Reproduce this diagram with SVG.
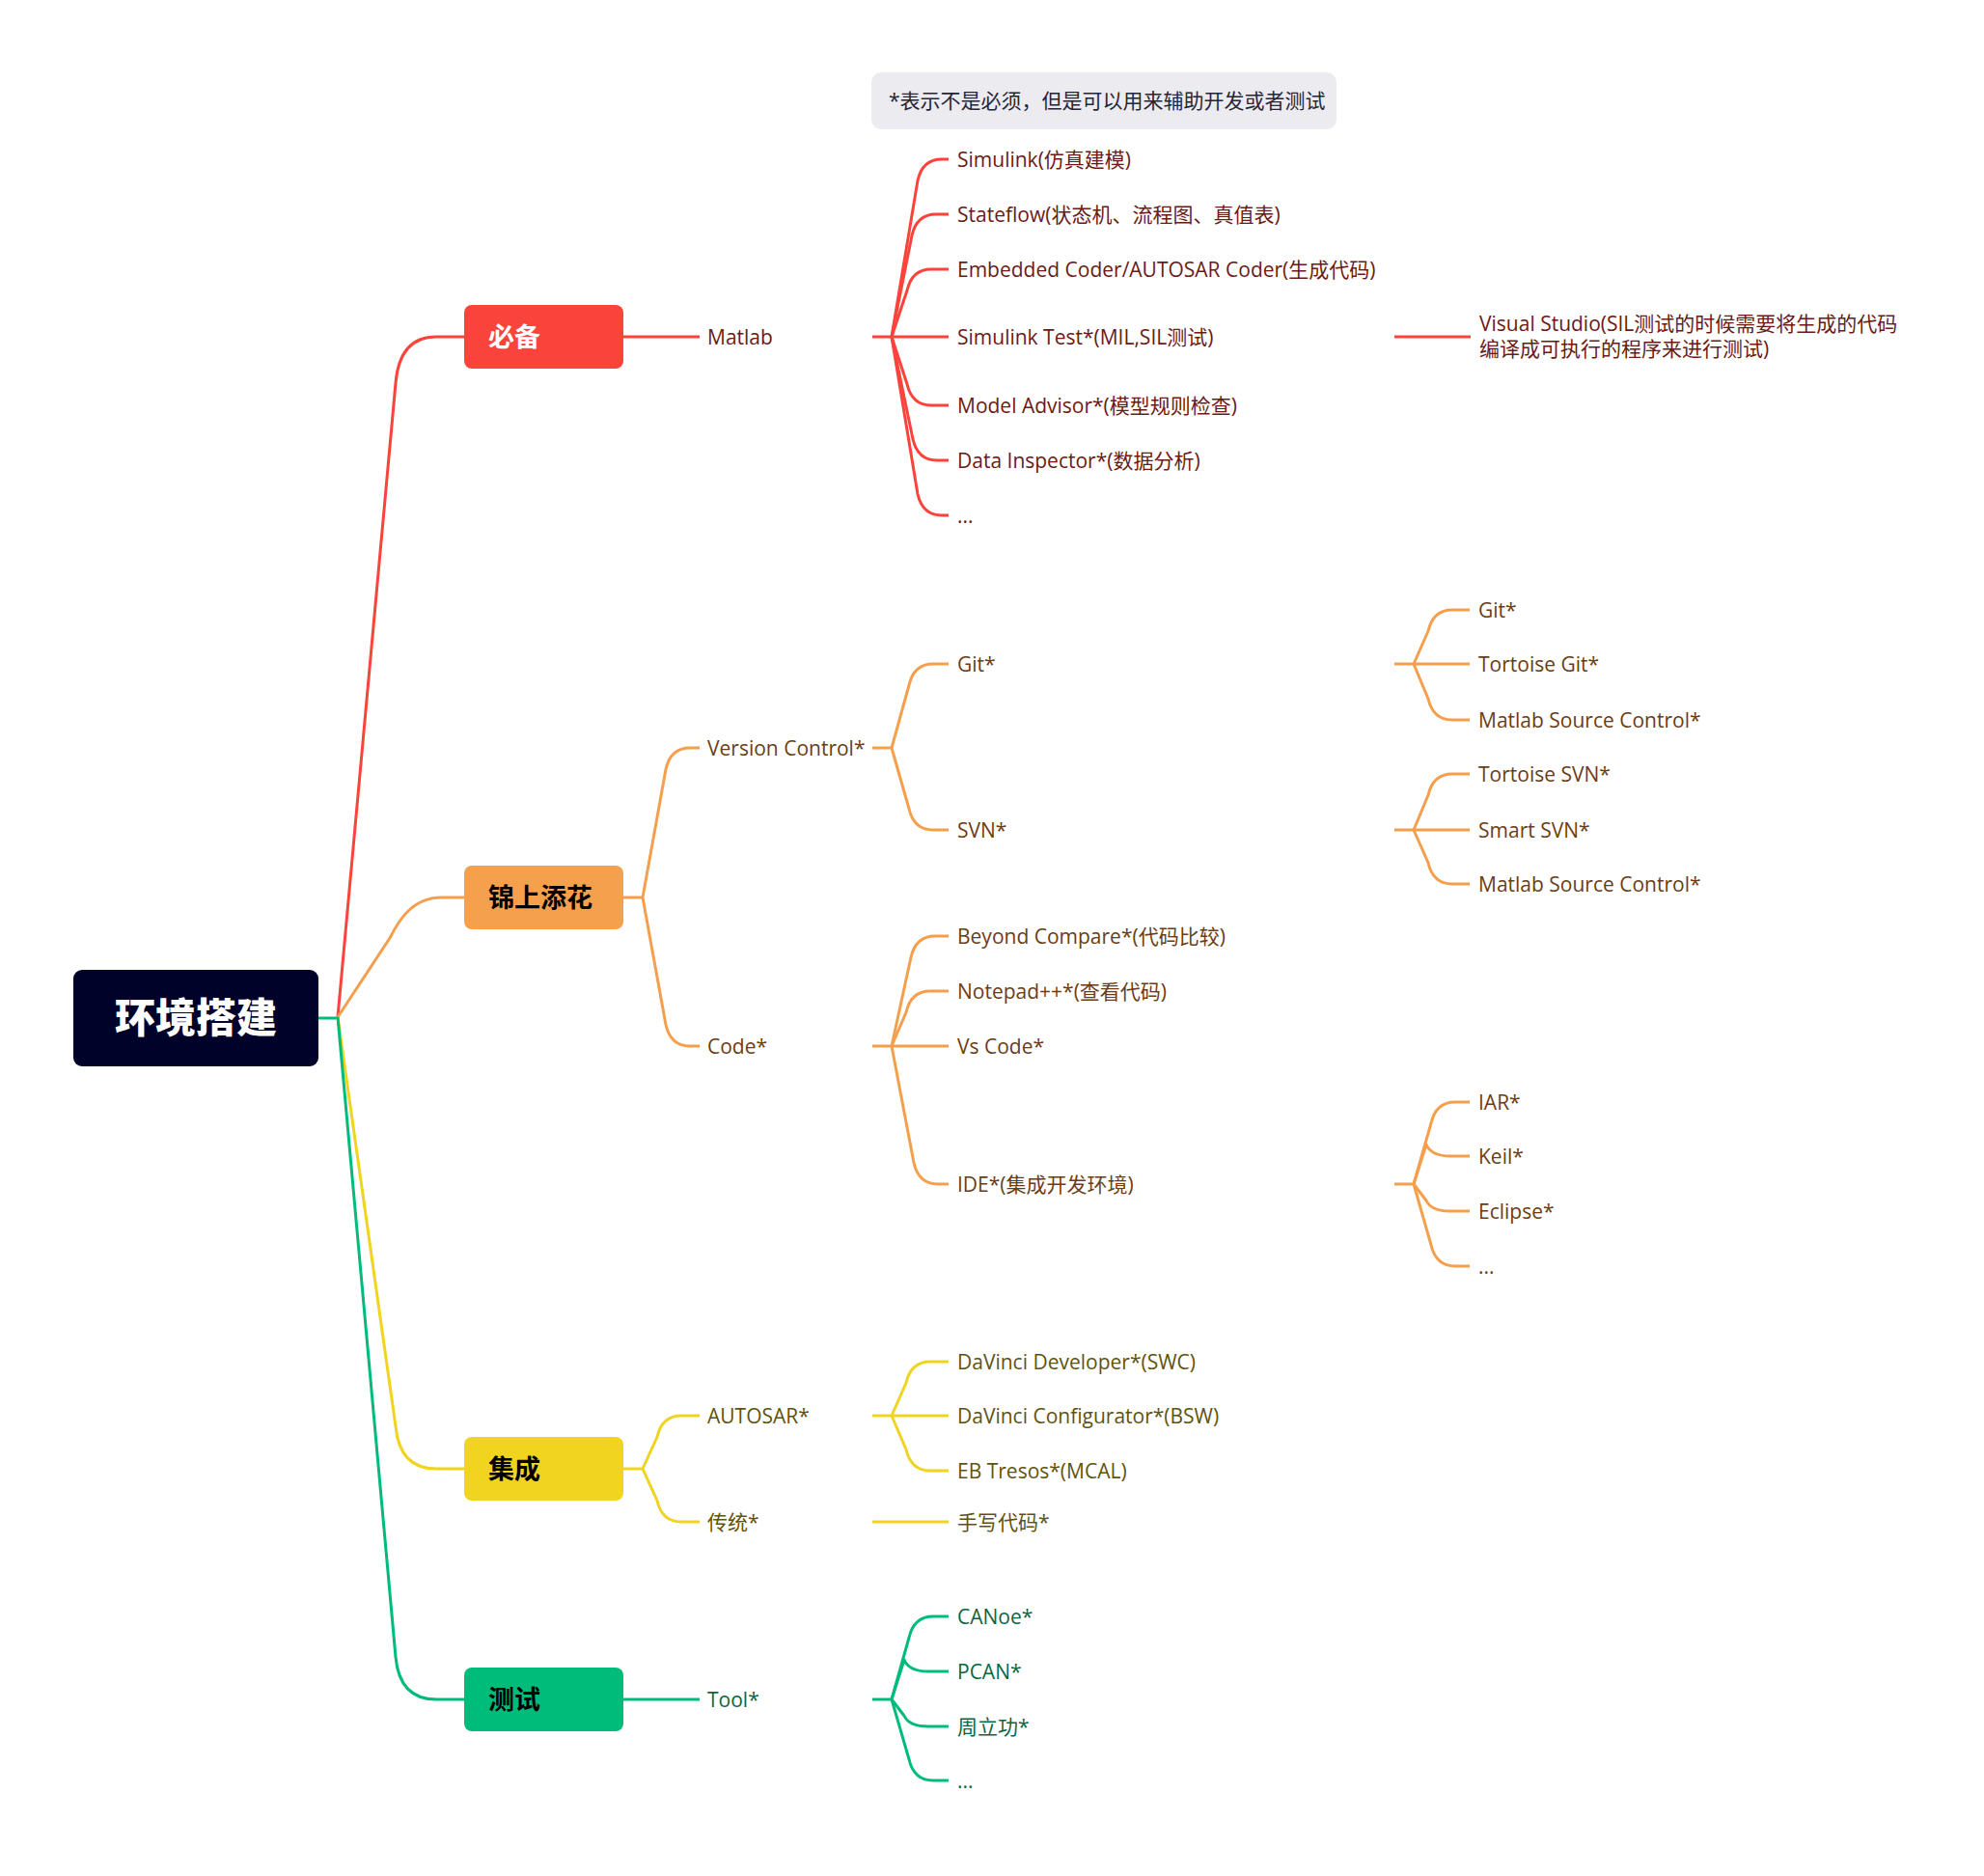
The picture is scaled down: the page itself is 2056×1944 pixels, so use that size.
<svg xmlns="http://www.w3.org/2000/svg" width="2056" height="1944" viewBox="0 0 2056 1944">
<style>
  .ln { fill: none; stroke-width: 3; stroke-linecap: butt; stroke-linejoin: round; }
  .red { stroke: #FA443B; }
  .org { stroke: #F59F4C; }
  .yel { stroke: #F0D420; }
  .grn { stroke: #00BC7B; }
  .t { font-family: "Open Sans", "Noto Sans CJK SC", sans-serif; font-size: 21px; }
  .tr { fill: #6B1A16; }
  .to { fill: #6B3D14; }
  .ty { fill: #5F5310; }
  .tg { fill: #0B6643; }
  .bx { font-family: "Noto Sans CJK SC", sans-serif; font-size: 27px; font-weight: 700; }
</style>
<rect width="2056" height="1944" fill="#ffffff"/>

<g id="connectors">
  <!-- root to main branches -->
  <path class="ln red" d="M350,1054 L410,397 Q414,349 452,349 L481,349"/>
  <path class="ln org" d="M350,1054 L404,972 C414,952 428,930 458,930 L481,930"/>
  <path class="ln yel" d="M350,1054 L410,1478 Q414,1522 452,1522 L481,1522"/>
  <path class="ln grn" d="M350,1054 L410,1717 Q414,1761 452,1761 L481,1761"/>
  <path class="ln grn" d="M330,1055 L350,1055"/>

  <!-- 必备 -->
  <path class="ln red" d="M646,349 L725,349"/>
  <path class="ln red" d="M904,349 L924,349"/>
  <path class="ln red" d="M924,349 L951,187 Q956,165 976,165 L983,165"/>
  <path class="ln red" d="M924,349 L945,244 Q950,222 970,222 L983,222"/>
  <path class="ln red" d="M924,349 L940,301 Q945,279 965,279 L983,279"/>
  <path class="ln red" d="M924,349 L983,349"/>
  <path class="ln red" d="M924,349 L940,398 Q945,420 965,420 L983,420"/>
  <path class="ln red" d="M924,349 L946,455 Q951,477 971,477 L983,477"/>
  <path class="ln red" d="M924,349 L951,512 Q956,534 976,534 L983,534"/>
  <path class="ln red" d="M1445,349 L1524,349"/>

  <!-- 锦上添花 -->
  <path class="ln org" d="M646,930 L666,930"/>
  <path class="ln org" d="M666,930 L690,797 Q695,775 715,775 L725,775"/>
  <path class="ln org" d="M666,930 L690,1062 Q695,1084 715,1084 L725,1084"/>
  <path class="ln org" d="M904,775 L924,775"/>
  <path class="ln org" d="M924,775 L942,710 Q947,688 967,688 L983,688"/>
  <path class="ln org" d="M924,775 L942,838 Q947,860 967,860 L983,860"/>
  <path class="ln org" d="M1445,688 L1465,688"/>
  <path class="ln org" d="M1465,688 L1480,654 Q1485,632 1505,632 L1523,632"/>
  <path class="ln org" d="M1465,688 L1523,688"/>
  <path class="ln org" d="M1465,688 L1480,724 Q1485,746 1505,746 L1523,746"/>
  <path class="ln org" d="M1445,860 L1465,860"/>
  <path class="ln org" d="M1465,860 L1480,824 Q1485,802 1505,802 L1523,802"/>
  <path class="ln org" d="M1465,860 L1523,860"/>
  <path class="ln org" d="M1465,860 L1480,894 Q1485,916 1505,916 L1523,916"/>
  <path class="ln org" d="M904,1084 L924,1084"/>
  <path class="ln org" d="M924,1084 L944,992 Q949,970 969,970 L983,970"/>
  <path class="ln org" d="M924,1084 L939,1049 Q944,1027 964,1027 L983,1027"/>
  <path class="ln org" d="M924,1084 L983,1084"/>
  <path class="ln org" d="M924,1084 L947,1205 Q952,1227 972,1227 L983,1227"/>
  <path class="ln org" d="M1445,1227 L1465,1227"/>
  <path class="ln org" d="M1465,1227 L1483,1164 Q1488,1142 1508,1142 L1523,1142"/>
  <path class="ln org" d="M1465,1227 L1478,1186 Q1483,1198 1503,1198 L1523,1198"/>
  <path class="ln org" d="M1465,1227 L1478,1244 Q1483,1255 1503,1255 L1523,1255"/>
  <path class="ln org" d="M1465,1227 L1483,1290 Q1488,1312 1508,1312 L1523,1312"/>

  <!-- 集成 -->
  <path class="ln yel" d="M646,1522 L666,1522"/>
  <path class="ln yel" d="M666,1522 L681,1489 Q686,1467 706,1467 L725,1467"/>
  <path class="ln yel" d="M666,1522 L681,1555 Q686,1577 706,1577 L725,1577"/>
  <path class="ln yel" d="M904,1467 L924,1467"/>
  <path class="ln yel" d="M924,1467 L939,1433 Q944,1411 964,1411 L983,1411"/>
  <path class="ln yel" d="M924,1467 L983,1467"/>
  <path class="ln yel" d="M924,1467 L939,1502 Q944,1524 964,1524 L983,1524"/>
  <path class="ln yel" d="M904,1577 L983,1577"/>

  <!-- 测试 -->
  <path class="ln grn" d="M646,1761 L725,1761"/>
  <path class="ln grn" d="M904,1761 L924,1761"/>
  <path class="ln grn" d="M924,1761 L942,1697 Q947,1675 967,1675 L983,1675"/>
  <path class="ln grn" d="M924,1761 L937,1720 Q942,1732 962,1732 L983,1732"/>
  <path class="ln grn" d="M924,1761 L937,1778 Q942,1789 962,1789 L983,1789"/>
  <path class="ln grn" d="M924,1761 L942,1823 Q947,1845 967,1845 L983,1845"/>
</g>

<g id="note">
  <rect x="903" y="75" width="482" height="59" rx="10" fill="#ECEBEF"/>
  <text class="t" x="921" y="112" fill="#262637">*表示不是必须，但是可以用来辅助开发或者测试</text>
</g>

<g id="root">
  <rect x="76" y="1005" width="254" height="100" rx="9" fill="#000229"/>
  <text x="203" y="1070" text-anchor="middle" font-family="Noto Sans CJK SC, sans-serif" font-size="42" font-weight="900" fill="#ffffff">环境搭建</text>
</g>

<g id="n-bibei">
  <rect x="481" y="316" width="165" height="66" rx="8" fill="#FA443B"/>
  <text class="bx" x="506" y="359" fill="#ffffff">必备</text>
</g>
<g id="n-jinshang">
  <rect x="481" y="897" width="165" height="66" rx="8" fill="#F5A04D"/>
  <text class="bx" x="506" y="940" fill="#000000">锦上添花</text>
</g>
<g id="n-jicheng">
  <rect x="481" y="1489" width="165" height="66" rx="8" fill="#F0D420"/>
  <text class="bx" x="506" y="1532" fill="#000000">集成</text>
</g>
<g id="n-ceshi">
  <rect x="481" y="1728" width="165" height="66" rx="8" fill="#00BC7B"/>
  <text class="bx" x="506" y="1771" fill="#000000">测试</text>
</g>

<!-- 必备 subtree -->
<g id="n-matlab"><text class="t tr" x="733" y="356.5">Matlab</text></g>
<g id="n-simulink"><text class="t tr" x="992" y="172.5">Simulink(仿真建模)</text></g>
<g id="n-stateflow"><text class="t tr" x="992" y="229.5">Stateflow(状态机、流程图、真值表)</text></g>
<g id="n-embedded"><text class="t tr" x="992" y="286.5">Embedded Coder/AUTOSAR Coder(生成代码)</text></g>
<g id="n-simtest"><text class="t tr" x="992" y="356.5">Simulink Test*(MIL,SIL测试)</text></g>
<g id="n-advisor"><text class="t tr" x="992" y="427.5">Model Advisor*(模型规则检查)</text></g>
<g id="n-inspector"><text class="t tr" x="992" y="484.5">Data Inspector*(数据分析)</text></g>
<g id="n-red-more"><text class="t tr" x="992" y="541.5">...</text></g>
<g id="n-vs"><text class="t tr" x="1533" y="343">Visual Studio(SIL测试的时候需要将生成的代码</text><text class="t tr" x="1533" y="369">编译成可执行的程序来进行测试)</text></g>

<!-- 锦上添花 subtree -->
<g id="n-vc"><text class="t to" x="733" y="782.5">Version Control*</text></g>
<g id="n-git"><text class="t to" x="992" y="695.5">Git*</text></g>
<g id="n-svn"><text class="t to" x="992" y="867.5">SVN*</text></g>
<g id="n-git2"><text class="t to" x="1532" y="639.5">Git*</text></g>
<g id="n-tgit"><text class="t to" x="1532" y="695.5">Tortoise Git*</text></g>
<g id="n-msc1"><text class="t to" x="1532" y="753.5">Matlab Source Control*</text></g>
<g id="n-tsvn"><text class="t to" x="1532" y="809.5">Tortoise SVN*</text></g>
<g id="n-ssvn"><text class="t to" x="1532" y="867.5">Smart SVN*</text></g>
<g id="n-msc2"><text class="t to" x="1532" y="923.5">Matlab Source Control*</text></g>
<g id="n-code"><text class="t to" x="733" y="1091.5">Code*</text></g>
<g id="n-beyond"><text class="t to" x="992" y="977.5">Beyond Compare*(代码比较)</text></g>
<g id="n-notepad"><text class="t to" x="992" y="1034.5">Notepad++*(查看代码)</text></g>
<g id="n-vscode"><text class="t to" x="992" y="1091.5">Vs Code*</text></g>
<g id="n-ide"><text class="t to" x="992" y="1234.5">IDE*(集成开发环境)</text></g>
<g id="n-iar"><text class="t to" x="1532" y="1149.5">IAR*</text></g>
<g id="n-keil"><text class="t to" x="1532" y="1205.5">Keil*</text></g>
<g id="n-eclipse"><text class="t to" x="1532" y="1262.5">Eclipse*</text></g>
<g id="n-org-more"><text class="t to" x="1532" y="1319.5">...</text></g>

<!-- 集成 subtree -->
<g id="n-autosar"><text class="t ty" x="733" y="1474.5">AUTOSAR*</text></g>
<g id="n-trad"><text class="t ty" x="733" y="1584.5">传统*</text></g>
<g id="n-dvdev"><text class="t ty" x="992" y="1418.5">DaVinci Developer*(SWC)</text></g>
<g id="n-dvcfg"><text class="t ty" x="992" y="1474.5">DaVinci Configurator*(BSW)</text></g>
<g id="n-eb"><text class="t ty" x="992" y="1531.5">EB Tresos*(MCAL)</text></g>
<g id="n-hand"><text class="t ty" x="992" y="1584.5">手写代码*</text></g>

<!-- 测试 subtree -->
<g id="n-tool"><text class="t tg" x="733" y="1768.5">Tool*</text></g>
<g id="n-canoe"><text class="t tg" x="992" y="1682.5">CANoe*</text></g>
<g id="n-pcan"><text class="t tg" x="992" y="1739.5">PCAN*</text></g>
<g id="n-zlg"><text class="t tg" x="992" y="1796.5">周立功*</text></g>
<g id="n-grn-more"><text class="t tg" x="992" y="1852.5">...</text></g>
</svg>
